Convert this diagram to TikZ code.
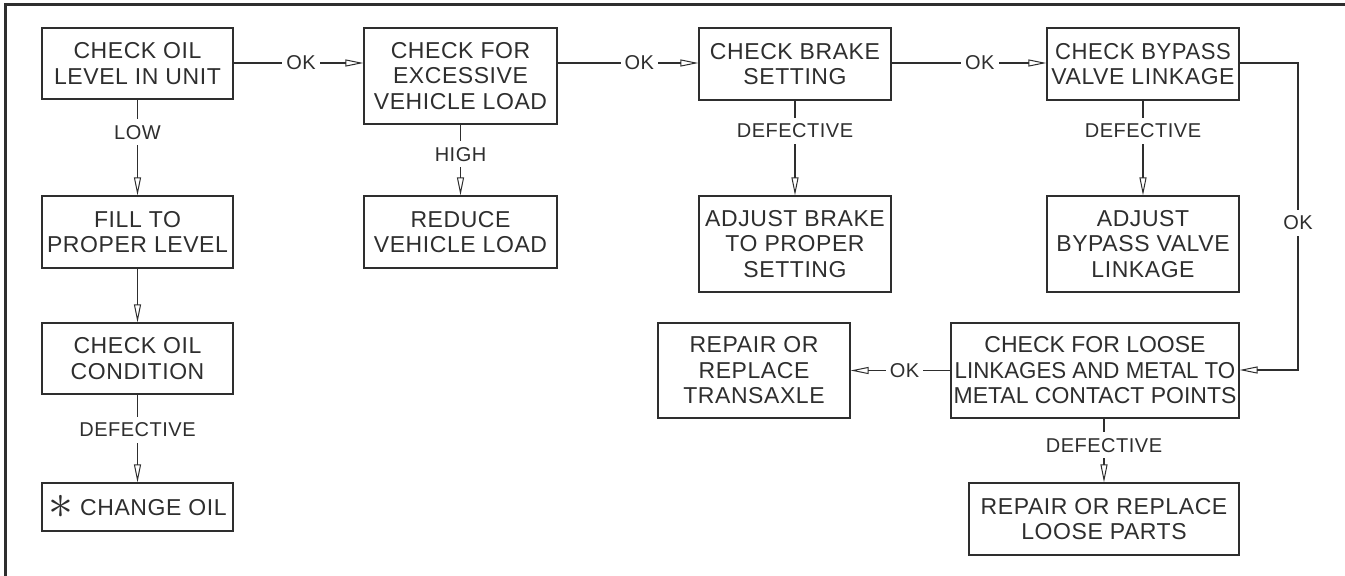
\documentclass[tikz,border=0pt]{standalone}
\usepackage{fontspec}
\setmainfont{Liberation Sans}[LetterSpace=2.5]
\newfontfamily\tightfont{Liberation Sans}
\usetikzlibrary{arrows.meta}
\definecolor{ink}{gray}{0.18}
\begin{document}
\begin{tikzpicture}[x=1pt,y=-1pt,
  box/.style={draw=ink, line width=1.1pt, align=center, text=ink, inner sep=0pt,
    font=\fontsize{23}{25.5}\selectfont},
  lbl/.style={fill=white, text=ink, inner xsep=4pt, inner ysep=6pt,
    font=\fontsize{20}{22}\selectfont},
  arr/.style={draw=ink, line width=1.1pt, -{Triangle[open, length=18pt, width=7pt, line width=1pt]}},
  frame/.style={draw=ink, line width=2.5pt}]
\useasboundingbox (0,0) rectangle (1345,576);
\draw[frame] (5.3,576) -- (5.3,4.5) -- (1345,4.5);

\node[box, minimum width=191pt, minimum height=71pt] (b1) at (137.5,63.5) {CHECK OIL\\LEVEL IN UNIT};
\node[box, minimum width=193pt, minimum height=96pt] (b2) at (460.5,76) {CHECK FOR\\EXCESSIVE\\VEHICLE LOAD};
\node[box, minimum width=192pt, minimum height=72pt] (b3) at (795,64) {CHECK BRAKE\\SETTING};
\node[box, minimum width=192pt, minimum height=72pt] (b4) at (1143,64) {\scalebox{0.96}[1]{CHECK BYPASS}\\VALVE LINKAGE};
\node[box, minimum width=191pt, minimum height=72pt] (fill) at (137.5,232) {FILL TO\\PROPER LEVEL};
\node[box, minimum width=191pt, minimum height=71pt] (cond) at (137.5,358.5) {CHECK OIL\\CONDITION};
\node[box, minimum width=191pt, minimum height=48pt] (chg) at (137.5,507) {\raisebox{-3pt}{\scalebox{2}{$\ast$}} CHANGE OIL};
\node[box, minimum width=193pt, minimum height=72pt] (red) at (460.5,232) {REDUCE\\VEHICLE LOAD};
\node[box, minimum width=192pt, minimum height=96pt] (adjb) at (795,244) {ADJUST BRAKE\\TO PROPER\\SETTING};
\node[box, minimum width=192pt, minimum height=96pt] (adjv) at (1143,244) {ADJUST\\BYPASS VALVE\\LINKAGE};
\node[box, minimum width=288pt, minimum height=95pt, font=\fontsize{23}{25.5}\tightfont] (loose) at (1095,370.5) {CHECK FOR LOOSE\\\scalebox{0.97}[1]{LINKAGES AND METAL TO}\\METAL CONTACT POINTS};
\node[box, minimum width=192pt, minimum height=95pt] (trans) at (754,370.5) {REPAIR OR\\REPLACE\\TRANSAXLE};
\node[box, minimum width=270pt, minimum height=72pt] (parts) at (1104,519) {REPAIR OR REPLACE\\LOOSE PARTS};
\coordinate (loopx) at (1298,0);

\draw[arr] (b1.east |- 0,63) -- node[lbl, pos=0.52]{OK} (b2.west |- 0,63);
\draw[arr] (b2.east |- 0,63) -- node[lbl, pos=0.58]{OK} (b3.west |- 0,63);
\draw[arr] (b3.east |- 0,63) -- node[lbl, pos=0.57]{OK} (b4.west |- 0,63);
\draw[arr] (b1.south) -- node[lbl, pos=0.34]{LOW} (fill.north);
\draw[arr] (b2.south) -- node[lbl, pos=0.42]{HIGH} (red.north);
\draw[arr] (b3.south) -- node[lbl, pos=0.32]{DEFECTIVE} (adjb.north);
\draw[arr] (b4.south) -- node[lbl, pos=0.32]{DEFECTIVE} (adjv.north);
\draw[arr] (fill.south) -- (cond.north);
\draw[arr] (cond.south) -- node[lbl, pos=0.40]{DEFECTIVE} (chg.north);
\draw[arr] (parts.north |- loose.south) -- node[lbl, pos=0.42]{DEFECTIVE} (parts.north);
\draw[arr] (loose.west) -- node[lbl, pos=0.46]{OK} (trans.east);
\draw[arr] (b4.east |- 0,63) -- (loopx |- 0,63) -- node[lbl, pos=0.52]{OK} (loopx |- 0,370) -- (loose.east |- 0,370);
\end{tikzpicture}
\end{document}
